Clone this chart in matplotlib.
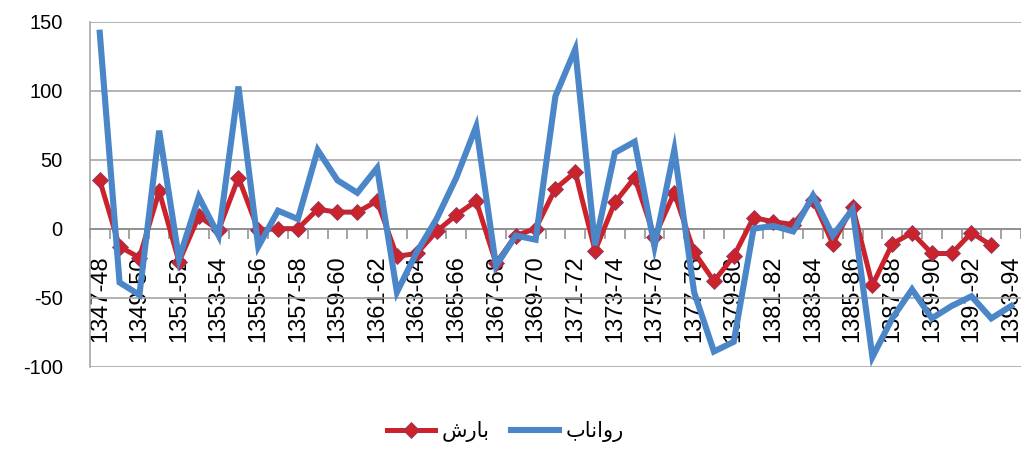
"""Precipitation and runoff anomaly line chart (Excel style)."""

import matplotlib
matplotlib.use("Agg")
import matplotlib.pyplot as plt
import numpy as np
from matplotlib.ticker import FixedLocator, NullFormatter

# category labels 1347-48 ... 1393-94
start_years = list(range(1347, 1394))
categories = [f"{year}-{(year + 1) % 100:02d}" for year in start_years]

# بارش (precipitation), last year missing
precip = [35, -13, -21, 27, -24, 9, -1, 37, -1, 0, 0, 14, 12, 12, 20,
          -20, -18, -2, 10, 20, -25, -5, 0, 29, 41, -16, 19, 37, -6, 26,
          -17, -38, -20, 8, 5, 3, 21, -11, 16, -41, -11, -3, -18, -18, -3,
          -12, np.nan]
# رواناب (runoff)
runoff = [142, -39, -48, 71, -22, 23, -5, 103, -13, 13, 7, 57, 35, 26, 44,
          -46, -17, 7, 37, 74, -27, -5, -8, 96, 130, -12, 55, 63, -13, 57,
          -46, -89, -82, 0, 2, -2, 24, -5, 14, -93, -65, -44, -65, -56, -49,
          -65, -56]
y_ticks = [-100, -50, 0, 50, 100, 150]

# Arabic labels pre-shaped (presentation forms, visual order)
precip_label = "\uFEB5\uFEAD\uFE8E\uFE91"
runoff_label = "\uFE8F\uFE8E\uFEE7\uFE8D\uFEED\uFEAD"

red = "#cc2229"
blue = "#4a86c8"
grid_color = "#a6a6a6"

plt.rcParams["font.family"] = ["Liberation Sans", "DejaVu Sans"]
plt.rcParams["axes.unicode_minus"] = False

fig = plt.figure(figsize=(10.21, 4.51), dpi=100)
ax = fig.add_axes([0.088, 0.187, 0.912, 0.765])

x = np.arange(len(categories))
red_line, = ax.plot(x, precip, color=red, linewidth=3.6, marker="D",
                    markersize=8, markerfacecolor=red,
                    markeredgecolor="#8a3a6a", markeredgewidth=0.6,
                    zorder=3)
blue_line, = ax.plot(x, runoff, color=blue, linewidth=4.4,
                     solid_joinstyle="miter", zorder=4)

ax.set_xlim(-0.5, len(categories) - 0.5)
ax.set_ylim(-100, 150)
ax.set_yticks(y_ticks)
ax.yaxis.grid(True, color=grid_color, linewidth=1.2)
ax.set_axisbelow(True)
ax.tick_params(axis="y", length=0, pad=19.5, labelsize=14.5)

for side in ("top", "right"):
    ax.spines[side].set_visible(False)
ax.spines["left"].set_color(grid_color)
ax.spines["left"].set_linewidth(1.2)
ax.spines["bottom"].set_position(("data", 0))
ax.spines["bottom"].set_color("#8c8c8c")
ax.spines["bottom"].set_linewidth(1.2)

ax.set_xticks(x[::2])
ax.set_xticklabels(categories[::2], rotation=90, fontsize=17)
ax.tick_params(axis="x", which="major", length=0, pad=19)
ax.xaxis.set_minor_locator(FixedLocator(np.arange(-0.5, len(categories), 1)))
ax.xaxis.set_minor_formatter(NullFormatter())
ax.tick_params(axis="x", which="minor", length=7, width=1.1,
               color="#8c8c8c", direction="out")

fig.legend([red_line, blue_line], [precip_label, runoff_label],
           loc="center", bbox_to_anchor=(0.495, 0.043), ncol=2,
           frameon=False, handlelength=2.3, columnspacing=1.0,
           handletextpad=0.35, prop={"family": "DejaVu Sans", "size": 15})

fig.savefig("out.png", dpi=100)
